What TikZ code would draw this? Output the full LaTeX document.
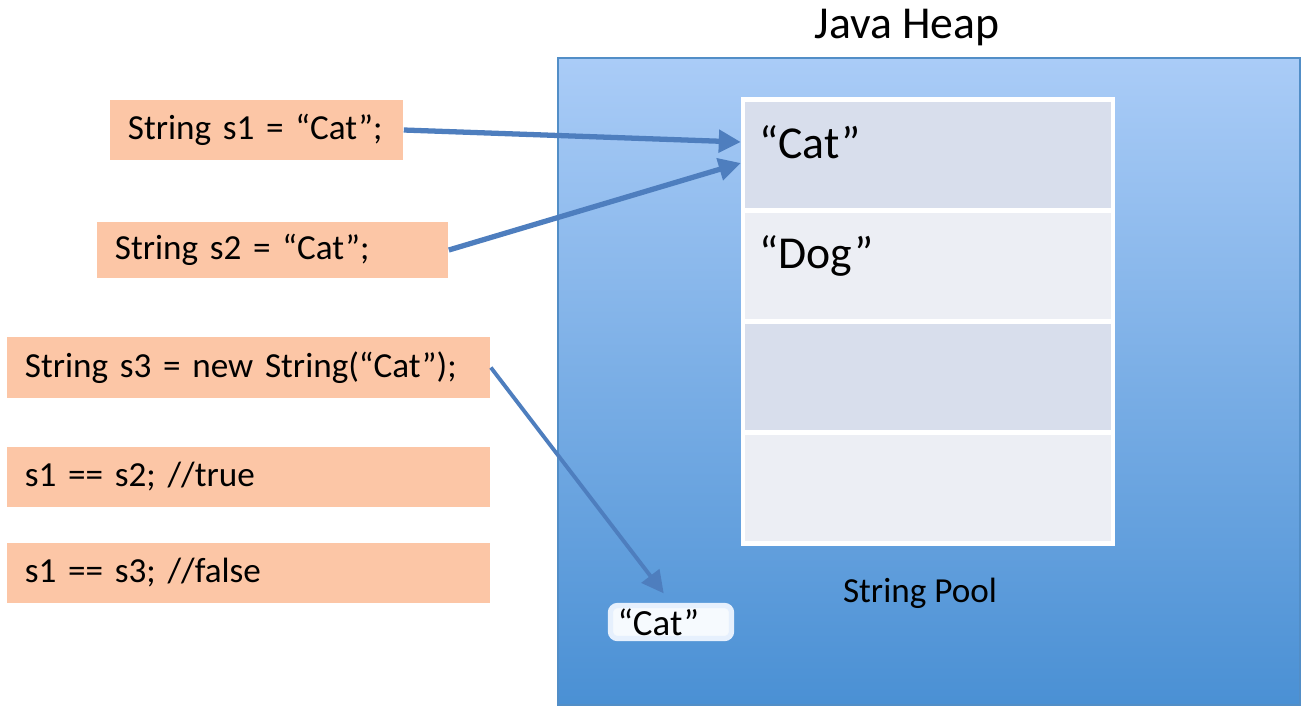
\documentclass[tikz,border=0pt]{standalone}
\usepackage{fontspec}
\setmainfont{Carlito}
\usetikzlibrary{arrows.meta}
\definecolor{codefill}{RGB}{252,198,166}
\definecolor{heaptop}{RGB}{170,204,247}
\definecolor{heapbot}{RGB}{74,144,212}
\definecolor{poolA}{RGB}{216,222,236}
\definecolor{poolB}{RGB}{236,238,244}
\definecolor{ptr}{RGB}{78,126,190}

\tikzset{
	codebox/.style = {rectangle, fill=codefill, inner xsep=0.18cm, inner ysep=0pt, align=left, font=\fontsize{10}{12}\selectfont},
	heap/.style = {rectangle, top color=heaptop, bottom color=heapbot, draw=heapbot!85!gray, line width=0.5pt, minimum width=7.42cm, minimum height=6.47cm},
	poolrow/.style = {rectangle, draw=white, line width=1.2pt, minimum width=3.70cm, minimum height=1.11cm},
	pooltext/.style = {anchor=west, inner sep=0pt, font=\fontsize{13}{15}\selectfont},
	pointer/.style = {draw=ptr, line width=1.5pt, -{Triangle[length=0.22cm,width=0.22cm]}}
}

\begin{document}
\begin{tikzpicture}[x=0.01cm, y=-0.01cm]
		\useasboundingbox (0,0) rectangle (1309,708);
		% heap
		\node[heap] (heap) at (929,381.5) {};
		\node[font=\fontsize{13}{15}\selectfont] (heaptitle) at (907,28) {Java Heap};
		% string pool
		\node[poolrow, fill=poolA] (row1) at (928,155) {};
		\node[poolrow, fill=poolB] (row2) at (928,266) {};
		\node[poolrow, fill=poolA] (row3) at (928,377) {};
		\node[poolrow, fill=poolB] (row4) at (928,488) {};
		\node[pooltext] (cat) at ([xshift=0.18cm, yshift=0.13cm]row1.west) {“Cat”};
		\node[pooltext] (dog) at ([xshift=0.18cm, yshift=0.10cm]row2.west) {“Dog”};
		\node[font=\fontsize{10}{12}\selectfont] (pool) at (920,593) {String Pool};
		% object outside the pool
		\node[fill=white!90!heaptop, draw=white!70!heaptop, line width=1.5pt, rounded corners=2pt, minimum width=1.21cm, minimum height=0.33cm, inner sep=0pt, font=\fontsize{10.5}{12}\selectfont] (heapcat) at (671,622) {};
		\node[anchor=west, inner sep=0pt, font=\fontsize{10.5}{12}\selectfont] (heapcattext) at ([xshift=0.09cm]heapcat.west) {“Cat”};
		% code
		\node[codebox, text width=2.57cm, minimum height=0.60cm] (s1) at (256.5,130) {String s1 = “Cat”;};
		\node[codebox, text width=3.15cm, minimum height=0.56cm] (s2) at (272.5,250) {String s2 = “Cat”;};
		\node[codebox, text width=4.47cm, minimum height=0.61cm] (s3) at (248.5,367.5) {String s3 = new String(“Cat”);};
		\node[codebox, text width=4.47cm, minimum height=0.60cm] (eq12) at (248.5,477) {s1 == s2; //true};
		\node[codebox, text width=4.47cm, minimum height=0.60cm] (eq13) at (248.5,573) {s1 == s3; //false};
		% references
		\coordinate (in1) at ([yshift=0.13cm]row1.west);
		\coordinate (in2) at ([yshift=-0.08cm]row1.west);
		\draw[pointer] (s1.east) -- (in1);
		\draw[pointer] (s2.east) -- (in2);
		\draw[pointer, line width=1.1pt, shorten >=0.12cm] (s3.east) -- (heapcat.north);
	\end{tikzpicture}
\end{document}
